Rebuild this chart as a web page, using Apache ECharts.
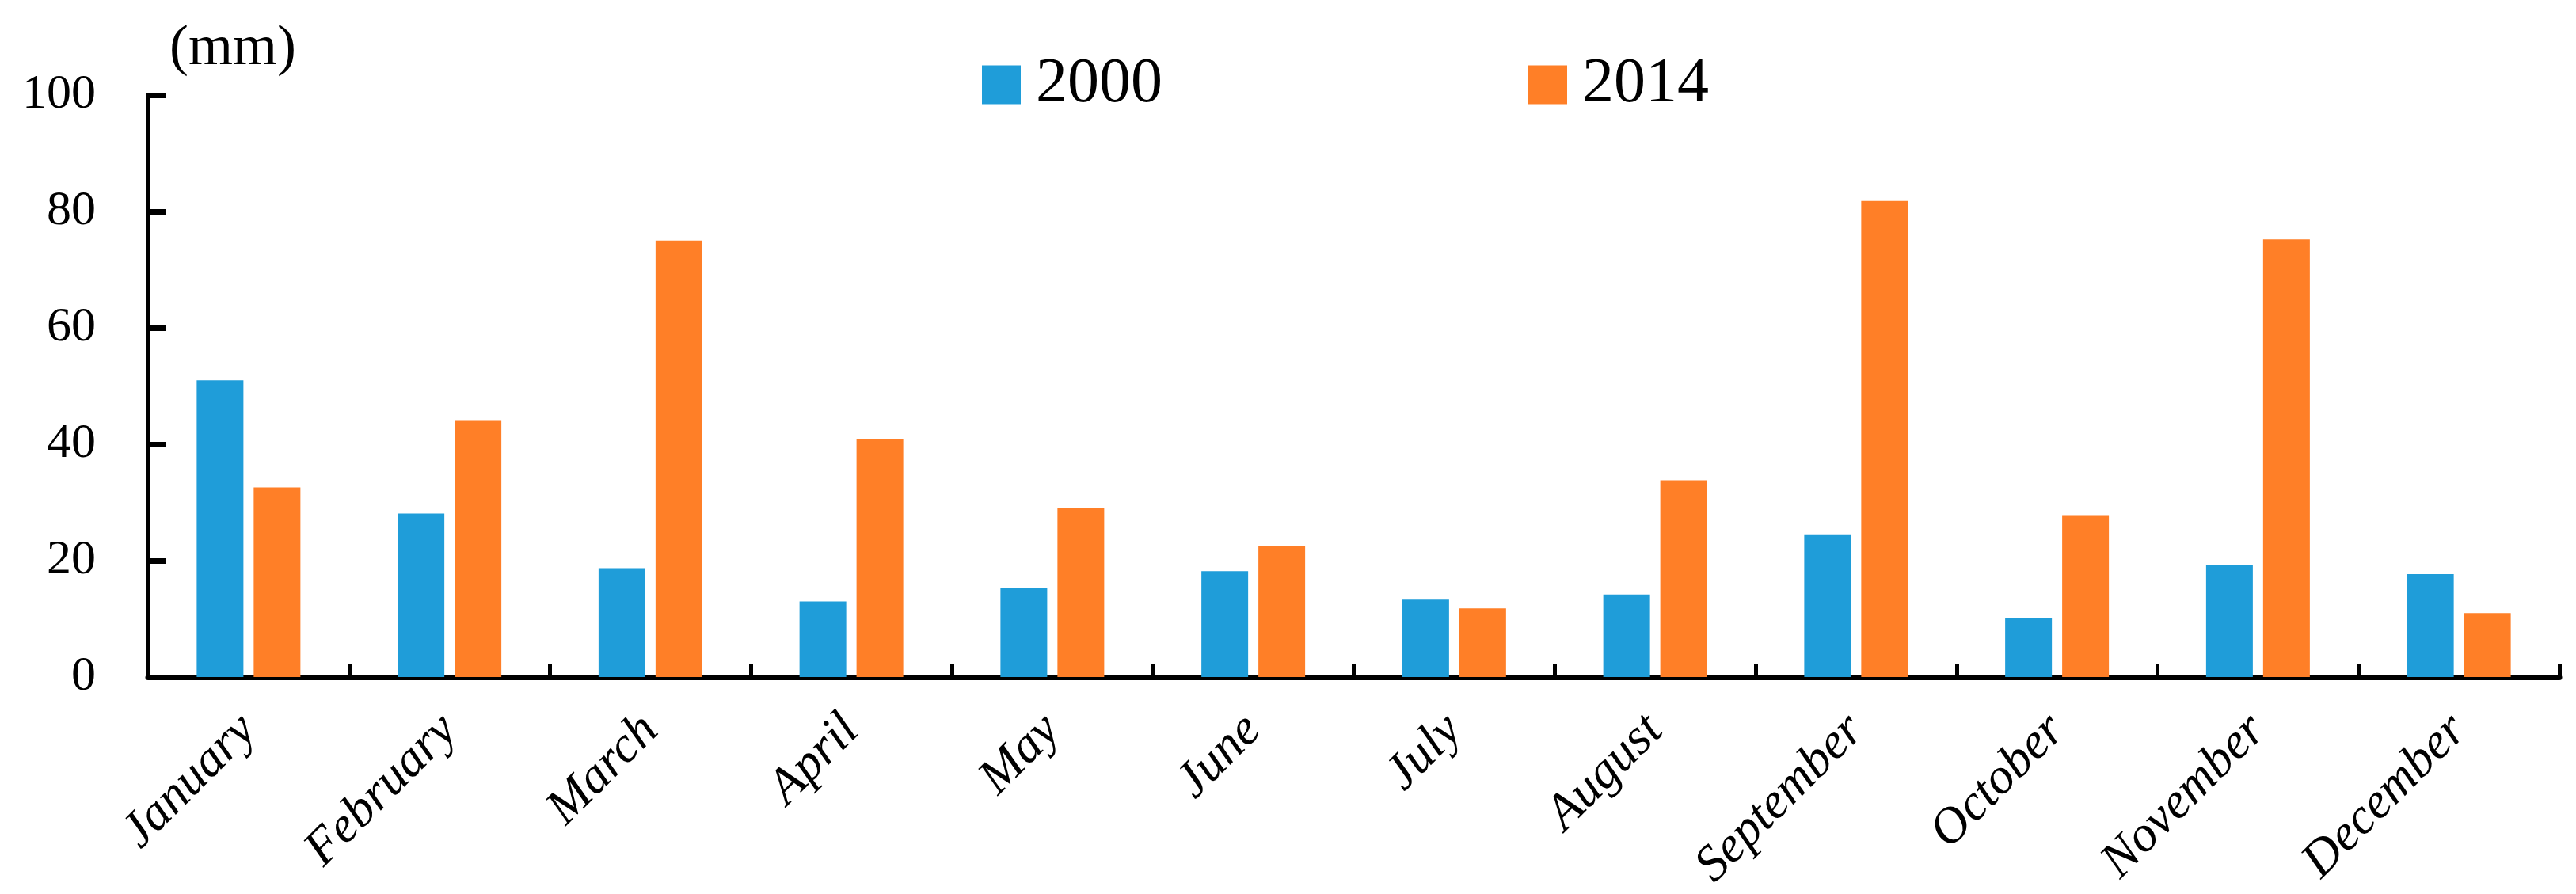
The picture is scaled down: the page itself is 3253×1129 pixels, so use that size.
<!DOCTYPE html>
<html><head><meta charset="utf-8">
<script src="https://cdn.jsdelivr.net/npm/echarts@6/dist/echarts.min.js"></script>
<style>html,body{margin:0;padding:0;background:#fff}#c{width:3253px;height:1129px}</style>
</head><body><div id="c"></div>
<script>
const months = ["January","February","March","April","May","June","July","August","September","October","November","December"];
const seriesNames = ["2000","2014"];
const values2000 = [51.0, 28.1, 18.7, 13.0, 15.3, 18.2, 13.3, 14.2, 24.4, 10.1, 19.2, 17.7];
const values2014 = [32.6, 44.0, 75.0, 40.8, 29.0, 22.6, 11.8, 33.8, 81.8, 27.7, 75.2, 11.0];
const yTicks = [0, 20, 40, 60, 80, 100];

const FONT = "'Liberation Serif', 'DejaVu Serif', serif";
const chart = echarts.init(document.getElementById('c'));
chart.setOption({
  animation: false,
  backgroundColor: '#fff',
  textStyle: { fontFamily: FONT, color: '#000' },
  legend: {
    data: seriesNames,
    top: 62,
    left: 1235,
    itemWidth: 49,
    itemHeight: 49,
    itemGap: 462,
    icon: 'rect',
    textStyle: { fontFamily: FONT, fontSize: 80, color: '#000', padding: [0, 0, 0, 14] }
  },
  grid: { left: 187, right: 21, top: 120, bottom: 274, containLabel: false },
  xAxis: {
    type: 'category',
    data: months,
    boundaryGap: true,
    axisLine: { lineStyle: { color: '#000', width: 7 } },
    axisTick: { show: true, inside: true, length: 16, lineStyle: { color: '#000', width: 5 } },
    axisLabel: { rotate: 45, margin: 58, fontFamily: FONT, fontStyle: 'italic', fontSize: 64, color: '#000', interval: 0 }
  },
  yAxis: {
    type: 'value',
    min: yTicks[0],
    max: yTicks[yTicks.length - 1],
    interval: yTicks[1] - yTicks[0],
    name: '(mm)',
    nameLocation: 'end',
    nameGap: 58,
    nameTextStyle: { fontFamily: FONT, fontSize: 72, color: '#000', align: 'left', verticalAlign: 'middle', padding: [0, 0, 0, 27] },
    splitLine: { show: false },
    axisLine: { show: true, lineStyle: { color: '#000', width: 6 } },
    axisTick: { show: true, inside: true, length: 22, lineStyle: { color: '#000', width: 7 } },
    axisLabel: { fontFamily: FONT, fontSize: 62, color: '#000', margin: 66 }
  },
  series: [
    { name: seriesNames[0], type: 'bar', data: values2000, barWidth: 59, barGap: '22%', itemStyle: { color: '#1F9DD9' } },
    { name: seriesNames[1], type: 'bar', data: values2014, barWidth: 59, barGap: '22%', itemStyle: { color: '#FF7F27' } }
  ]
});
</script></body></html>
